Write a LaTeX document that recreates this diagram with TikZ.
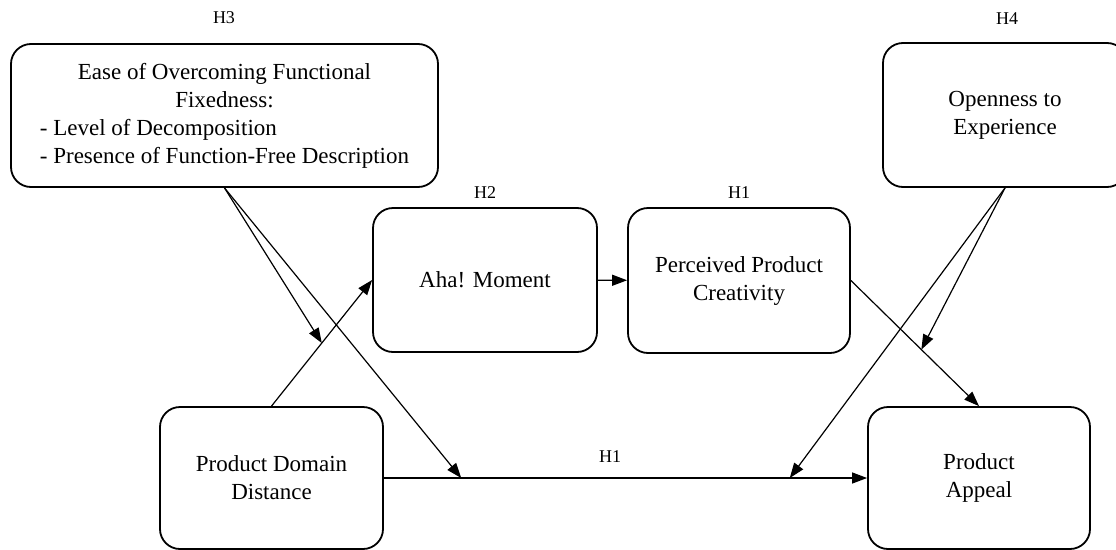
\documentclass[tikz,border=0pt]{standalone}
\usepackage{fontspec}
\setmainfont{Liberation Serif}
\usetikzlibrary{arrows.meta,positioning}

\begin{document}
\begin{tikzpicture}[x=1pt,y=-1pt,>={Triangle[length=15pt,width=11pt]},
  box/.style={draw, line width=1.8pt, rounded corners=20pt, align=center,
    inner sep=0pt, font=\fontsize{23}{28}\selectfont},
  hyp/.style={font=\fontsize{18}{22}\selectfont},
  link/.style={->, line width=1.2pt}]
  \useasboundingbox (0,0) rectangle (1116,549);
  \clip (0,0) rectangle (1116,549);

  \node (ease) [box, minimum width=427pt, minimum height=143pt] at (224.5,115.5)
    {\begin{tabular}{@{}l@{}}
      \multicolumn{1}{@{}c@{}}{Ease of Overcoming Functional}\\
      \multicolumn{1}{@{}c@{}}{Fixedness:}\\
      - Level of Decomposition\\
      - Presence of Function-Free Description
     \end{tabular}};
  \node (open) [box, minimum width=244pt, minimum height=144pt] at (1005,115) {Openness to\\Experience};
  \node (aha)  [box, minimum width=224pt, minimum height=144pt] at (485,280)  {Aha! Moment};
  \node (perc) [box, minimum width=222pt, minimum height=145pt] at (739,280.5) {Perceived Product\\Creativity};
  \node (dom)  [box, minimum width=223pt, minimum height=142pt] at (271.5,478) {Product Domain\\Distance};
  \node (app)  [box, minimum width=222pt, minimum height=142pt] at (979,478)  {Product\\Appeal};

  \node (h3)  [hyp] at (224,18)  {H3};
  \node (h4)  [hyp] at (1007,19) {H4};
  \node (h2)  [hyp] at (485,193) {H2};
  \node (h1a) [hyp] at (739,193) {H1};
  \node (h1b) [hyp] at (610,457) {H1};

  % main paths
  \draw[link] (dom.north) -- coordinate[pos=.5] (ad) (aha.west);
  \draw[link] (aha) -- (perc);
  \draw[link] (perc.east) -- coordinate[pos=.55] (pa) (app.north);
  \draw[link] (dom.east) -- coordinate[pos=.16] (da1) coordinate[pos=.84] (da2) (app.west);

  % moderators
  \draw[link] (ease.south) -- (ad);
  \draw[link] (ease.south) -- (da1);
  \draw[link] (open.south) -- (pa);
  \draw[link] (open.south) -- (da2);
\end{tikzpicture}
\end{document}
